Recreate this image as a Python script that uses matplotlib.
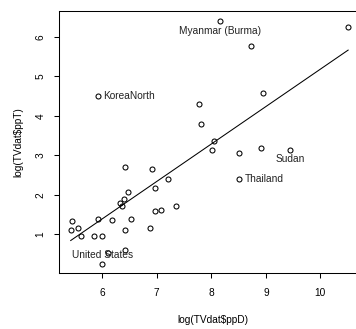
import numpy as np
import matplotlib.pyplot as plt

plt.rcParams['font.family'] = ['Liberation Sans', 'DejaVu Sans']

## log of people per doctor and people per TV
ppD = [8.16, 10.51, 8.73, 8.94, 5.92, 7.77, 7.81, 8.04, 8.01, 8.50,
       8.91, 9.44, 8.50, 6.42, 6.92, 7.20, 6.97, 6.47, 6.40, 6.32,
       6.36, 7.35, 6.97, 7.08, 5.92, 6.17, 6.53, 5.44, 5.55, 5.42,
       6.42, 6.87, 5.61, 5.84, 6.00, 6.10, 6.41, 6.00]
ppT = [6.40, 6.24, 5.77, 4.57, 4.51, 4.30, 3.79, 3.37, 3.13, 3.05,
       3.18, 3.14, 2.40, 2.71, 2.65, 2.40, 2.18, 2.08, 1.89, 1.79,
       1.72, 1.72, 1.59, 1.61, 1.38, 1.36, 1.39, 1.34, 1.16, 1.10,
       1.10, 1.16, 0.95, 0.95, 0.95, 0.53, 0.59, 0.26]

## labelled countries: index into the arrays, offset in points, alignment
names = ['Myanmar (Burma)', 'KoreaNorth', 'Sudan', 'Thailand', 'United States']
name_idx = [0, 4, 11, 12, 37]
name_off = [(0, -7.2), (4, 0), (0, -7), (4.8, 0), (0, 6.3)]
name_ha = ['center', 'left', 'center', 'left', 'center']

## least squares line
b0 = -4.29
b1 = 0.947

fig = plt.figure(figsize=(3.56, 3.29), dpi=100)
ax = fig.add_axes([59/356, 56/329, 307/356, 262/329])

ax.plot(ppD, ppT, 'o', mfc='none', mec='black', ms=3.6, mew=0.75)

xs = np.array([min(ppD), max(ppD)])
ax.plot(xs, b0 + b1*xs, color='black', lw=0.75)

for i in range(len(names)):
    k = name_idx[i]
    ax.annotate(names[i], (ppD[k], ppT[k]), xytext=name_off[i],
                textcoords='offset points', ha=name_ha[i], va='center',
                fontsize=7.3, color='#222222')

ax.set_xlim(5.205, 10.838)
ax.set_ylim(0.02, 6.653)
ax.set_xticks([6, 7, 8, 9, 10])
ax.set_yticks([1, 2, 3, 4, 5, 6])
for s in ax.spines.values():
    s.set_linewidth(0.75)
ax.tick_params(length=3.6, width=0.75, labelsize=7.3, pad=6)
ax.tick_params(axis='x', pad=7.5)
plt.setp(ax.get_yticklabels(), rotation=90, va='center')

ax.set_xlabel('log(TVdat$ppD)', fontsize=7.3, labelpad=12)
ax.set_ylabel('log(TVdat$ppT)', fontsize=7.3, labelpad=9)

fig.savefig('out.png', dpi=100)
